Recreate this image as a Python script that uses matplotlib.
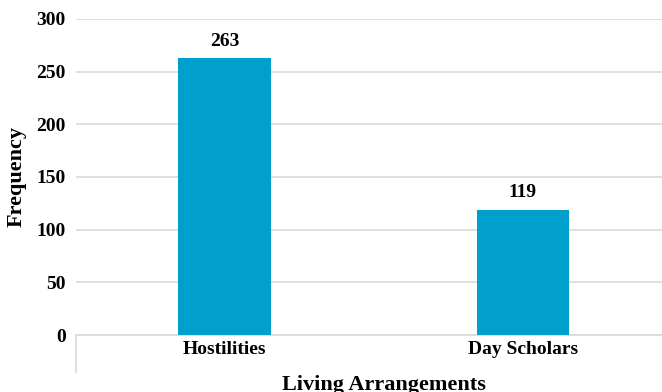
import matplotlib
matplotlib.use("Agg")
import matplotlib.pyplot as plt
from matplotlib.lines import Line2D

categories = ["Hostilities", "Day Scholars"]
values = [263, 119]
yticks = [0, 50, 100, 150, 200, 250, 300]

plt.rcParams['font.family'] = ['Liberation Serif', 'DejaVu Serif']
plt.rcParams['font.weight'] = 'bold'

W, H = 662, 392
fig = plt.figure(figsize=(W/100, H/100), dpi=100)
left, right, top, bottom = 75.5, 672, 19, 335
ax = fig.add_axes([left/W, 1-bottom/H, (right-left)/W, (bottom-top)/H])

x = list(range(len(categories)))
bars = ax.bar(x, values, width=0.31, color="#009fcc", zorder=3)
ax.set_xlim(-0.5, len(categories)-0.5)
ax.set_ylim(0, 300)
ax.set_yticks(yticks)
ax.set_yticklabels([str(v) for v in yticks], fontsize=14, fontweight='bold')
ax.set_xticks(x)
ax.set_xticklabels(categories, fontsize=14, fontweight='bold')
ax.tick_params(axis='both', length=0)
ax.tick_params(axis='y', pad=7)
ax.tick_params(axis='x', pad=4)
ax.grid(axis='y', color='#d9d9d9', linewidth=1.2, zorder=0)
for s in ['top', 'right', 'left']:
    ax.spines[s].set_visible(False)
ax.spines['bottom'].set_color('#d9d9d9')
ax.spines['bottom'].set_linewidth(1.2)

for b, v in zip(bars, values):
    ax.annotate(str(v), (b.get_x()+b.get_width()/2, v), xytext=(0, 12),
                textcoords='offset points', ha='center', va='center',
                fontsize=14, fontweight='bold')

# category divider line extending below axis
ax.add_line(Line2D([0, 0], [0, -(372-335)/(bottom-top)], transform=ax.transAxes,
                   color='#d9d9d9', linewidth=1.2, clip_on=False))

fig.text(17/W, 1-177/H, "Frequency", rotation=90, ha='center', va='center',
         fontsize=16, fontweight='bold')
fig.text(384/W, 1-390/H, "Living Arrangements", ha='center', va='baseline',
         fontsize=16, fontweight='bold')

fig.savefig("out.png", dpi=100)
